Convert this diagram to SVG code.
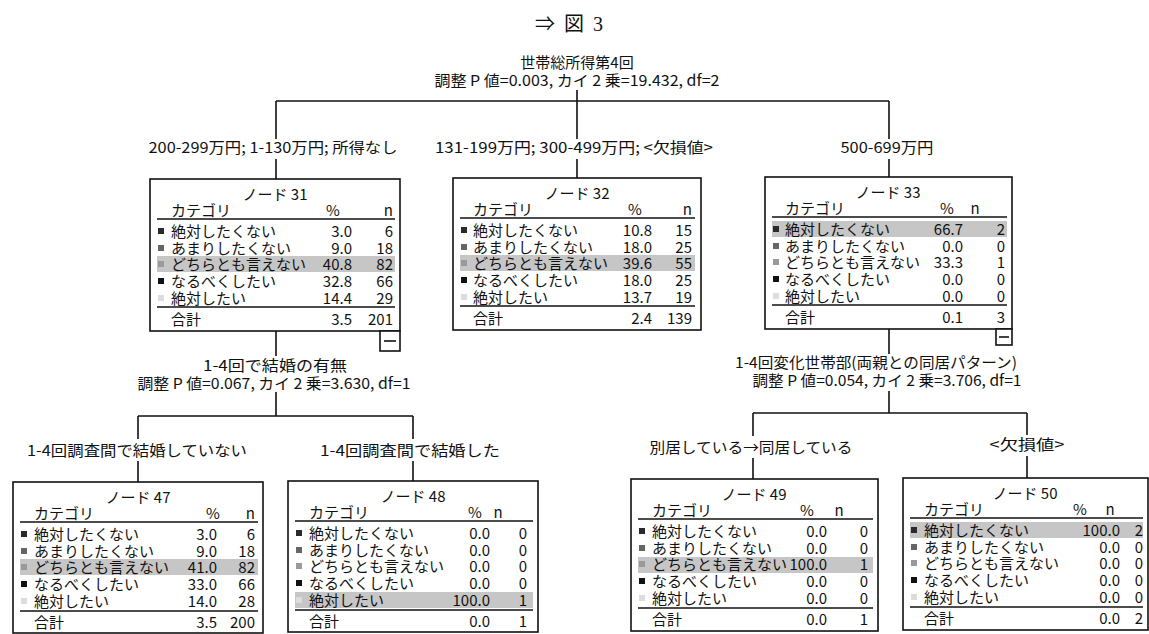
<svg xmlns="http://www.w3.org/2000/svg" width="1149" height="634" viewBox="0 0 1149 634">
<style>
text{font-family:"Noto Sans CJK JP","Noto Sans CJK SC",sans-serif;font-size:15px;fill:#111}
.c{text-anchor:middle}
.e{text-anchor:end}
.ttl{font-family:"Liberation Serif","Noto Sans CJK JP",serif;font-size:20px}
.box{fill:#fff;stroke:#111;stroke-width:1.6}
.sep{stroke:#111;stroke-width:1.6}
.hl{fill:#c6c6c6}
.k1{fill:#2a2a2a}.k2{fill:#666}.k3{fill:#9a9a9a}.k4{fill:#111}.k5{fill:#dcdcdc}
.cn{fill:none;stroke:#111;stroke-width:1.6}
</style>
<text class="ttl c" x="569" y="31" textLength="68" lengthAdjust="spacing">⇒ 図 3</text>
<g id="root">
<text class="c" x="577" y="68" font-size="16">世帯総所得第4回</text>
<text class="c" x="577" y="86" textLength="285" lengthAdjust="spacingAndGlyphs">調整 P 値=0.003, カイ 2 乗=19.432, df=2</text>
</g>
<g id="connectors" class="cn">
<path class="cn" d="M577,90V101M276,101H889M276,101V139M276,159V179M577,101V139M577,159V178M889,101V139M889,159V177"/>
<path class="cn" d="M276,331V356M276,392V416M138,416H413M138,416V439M138,461V482M413,416V439M413,461V481"/>
<path class="cn" d="M889,329V354M889,391V413M753,413H1027M753,413V436M753,458V479M1027,413V435M1027,456V478"/>
</g>
<g id="labels">
<text class="c" x="273" y="153" textLength="249" lengthAdjust="spacingAndGlyphs">200-299万円; 1-130万円; 所得なし</text>
<text class="c" x="574" y="153" textLength="278" lengthAdjust="spacingAndGlyphs">131-199万円; 300-499万円; &lt;欠損値&gt;</text>
<text class="c" x="887" y="153" textLength="93" lengthAdjust="spacingAndGlyphs">500-699万円</text>
<text class="c" x="275" y="371" textLength="144" lengthAdjust="spacingAndGlyphs">1-4回で結婚の有無</text>
<text class="c" x="274" y="389" textLength="273" lengthAdjust="spacingAndGlyphs">調整 P 値=0.067, カイ 2 乗=3.630, df=1</text>
<text class="c" x="876" y="368" textLength="282" lengthAdjust="spacingAndGlyphs">1-4回変化世帯部(両親との同居パターン)</text>
<text class="c" x="887" y="386" textLength="269" lengthAdjust="spacingAndGlyphs">調整 P 値=0.054, カイ 2 乗=3.706, df=1</text>
<text class="c" x="137" y="456" textLength="220" lengthAdjust="spacingAndGlyphs">1-4回調査間で結婚していない</text>
<text class="c" x="410" y="456" textLength="180" lengthAdjust="spacingAndGlyphs">1-4回調査間で結婚した</text>
<text class="c" x="751" y="453" textLength="203" lengthAdjust="spacingAndGlyphs">別居している→同居している</text>
<text class="c" x="1027" y="450" textLength="75" lengthAdjust="spacingAndGlyphs">&lt;欠損値&gt;</text>
</g>

<g id="node31">
<rect class="box" x="150" y="179" width="250" height="152"/>
<rect class="hl" x="157" y="256" width="238" height="16"/>
<text class="c" x="275" y="200">ノード 31</text>
<text x="171" y="216">カテゴリ</text><text class="c" x="333" y="216">%</text><text class="e" x="393" y="216">n</text>
<line class="sep" x1="157" y1="219" x2="395" y2="219"/>
<rect class="k1" x="158" y="228" width="6" height="6"/><rect class="k2" x="158" y="245" width="6" height="6"/><rect class="k3" x="158" y="261" width="6" height="6"/><rect class="k4" x="158" y="278" width="6" height="6"/><rect class="k5" x="158" y="295" width="6" height="6"/>
<text x="171" y="236.5">絶対したくない</text><text class="e" x="352" y="236.5">3.0</text><text class="e" x="393" y="236.5">6</text>
<text x="171" y="253.5">あまりしたくない</text><text class="e" x="352" y="253.5">9.0</text><text class="e" x="393" y="253.5">18</text>
<text x="171" y="269.5">どちらとも言えない</text><text class="e" x="352" y="269.5">40.8</text><text class="e" x="393" y="269.5">82</text>
<text x="171" y="286.5">なるべくしたい</text><text class="e" x="352" y="286.5">32.8</text><text class="e" x="393" y="286.5">66</text>
<text x="171" y="303.5">絶対したい</text><text class="e" x="352" y="303.5">14.4</text><text class="e" x="393" y="303.5">29</text>
<line class="sep" x1="157" y1="307" x2="395" y2="307"/>
<text x="171" y="324.5">合計</text><text class="e" x="352" y="324.5">3.5</text><text class="e" x="393" y="324.5">201</text>
<rect class="box" x="380" y="331" width="20" height="20"/><line class="sep" x1="384" y1="341" x2="396" y2="341"/>
</g>

<g id="node32">
<rect class="box" x="453" y="178" width="248" height="152"/>
<rect class="hl" x="460" y="255" width="235" height="16"/>
<text class="c" x="577" y="199">ノード 32</text>
<text x="473" y="215">カテゴリ</text><text class="c" x="635" y="215">%</text><text class="e" x="692" y="215">n</text>
<line class="sep" x1="460" y1="218" x2="695" y2="218"/>
<rect class="k1" x="461" y="227" width="6" height="6"/><rect class="k2" x="461" y="244" width="6" height="6"/><rect class="k3" x="461" y="260" width="6" height="6"/><rect class="k4" x="461" y="277" width="6" height="6"/><rect class="k5" x="461" y="294" width="6" height="6"/>
<text x="473" y="235.5">絶対したくない</text><text class="e" x="652" y="235.5">10.8</text><text class="e" x="692" y="235.5">15</text>
<text x="473" y="252.5">あまりしたくない</text><text class="e" x="652" y="252.5">18.0</text><text class="e" x="692" y="252.5">25</text>
<text x="473" y="268.5">どちらとも言えない</text><text class="e" x="652" y="268.5">39.6</text><text class="e" x="692" y="268.5">55</text>
<text x="473" y="285.5">なるべくしたい</text><text class="e" x="652" y="285.5">18.0</text><text class="e" x="692" y="285.5">25</text>
<text x="473" y="302.5">絶対したい</text><text class="e" x="652" y="302.5">13.7</text><text class="e" x="692" y="302.5">19</text>
<line class="sep" x1="460" y1="306" x2="695" y2="306"/>
<text x="473" y="323.5">合計</text><text class="e" x="652" y="323.5">2.4</text><text class="e" x="692" y="323.5">139</text>
</g>

<g id="node33">
<rect class="box" x="765" y="177" width="247" height="152"/>
<rect class="hl" x="772" y="221" width="235" height="16"/>
<text class="c" x="888" y="198">ノード 33</text>
<text x="785" y="214">カテゴリ</text><text class="c" x="947" y="214">%</text><text class="c" x="975" y="214">n</text>
<line class="sep" x1="772" y1="217" x2="1007" y2="217"/>
<rect class="k1" x="773" y="226" width="6" height="6"/><rect class="k2" x="773" y="243" width="6" height="6"/><rect class="k3" x="773" y="259" width="6" height="6"/><rect class="k4" x="773" y="276" width="6" height="6"/><rect class="k5" x="773" y="293" width="6" height="6"/>
<text x="785" y="234.5">絶対したくない</text><text class="e" x="963" y="234.5">66.7</text><text class="e" x="1005" y="234.5">2</text>
<text x="785" y="251.5">あまりしたくない</text><text class="e" x="963" y="251.5">0.0</text><text class="e" x="1005" y="251.5">0</text>
<text x="785" y="267.5">どちらとも言えない</text><text class="e" x="963" y="267.5">33.3</text><text class="e" x="1005" y="267.5">1</text>
<text x="785" y="284.5">なるべくしたい</text><text class="e" x="963" y="284.5">0.0</text><text class="e" x="1005" y="284.5">0</text>
<text x="785" y="301.5">絶対したい</text><text class="e" x="963" y="301.5">0.0</text><text class="e" x="1005" y="301.5">0</text>
<line class="sep" x1="772" y1="305" x2="1007" y2="305"/>
<text x="785" y="322.5">合計</text><text class="e" x="963" y="322.5">0.1</text><text class="e" x="1005" y="322.5">3</text>
<rect class="box" x="996" y="329" width="16" height="16"/><line class="sep" x1="999" y1="337" x2="1009" y2="337"/>
</g>

<g id="node47">
<rect class="box" x="13" y="482" width="250" height="151"/>
<rect class="hl" x="20" y="559" width="238" height="16"/>
<text class="c" x="138" y="503">ノード 47</text>
<text x="34" y="519">カテゴリ</text><text class="c" x="213" y="519">%</text><text class="e" x="255" y="519">n</text>
<line class="sep" x1="20" y1="522" x2="258" y2="522"/>
<rect class="k1" x="21" y="531" width="6" height="6"/><rect class="k2" x="21" y="548" width="6" height="6"/><rect class="k3" x="21" y="564" width="6" height="6"/><rect class="k4" x="21" y="581" width="6" height="6"/><rect class="k5" x="21" y="598" width="6" height="6"/>
<text x="34" y="539.5">絶対したくない</text><text class="e" x="217" y="539.5">3.0</text><text class="e" x="255" y="539.5">6</text>
<text x="34" y="556.5">あまりしたくない</text><text class="e" x="217" y="556.5">9.0</text><text class="e" x="255" y="556.5">18</text>
<text x="34" y="572.5">どちらとも言えない</text><text class="e" x="217" y="572.5">41.0</text><text class="e" x="255" y="572.5">82</text>
<text x="34" y="589.5">なるべくしたい</text><text class="e" x="217" y="589.5">33.0</text><text class="e" x="255" y="589.5">66</text>
<text x="34" y="606.5">絶対したい</text><text class="e" x="217" y="606.5">14.0</text><text class="e" x="255" y="606.5">28</text>
<line class="sep" x1="20" y1="611" x2="258" y2="611"/>
<text x="34" y="627.5">合計</text><text class="e" x="217" y="627.5">3.5</text><text class="e" x="255" y="627.5">200</text>
</g>

<g id="node48">
<rect class="box" x="288" y="481" width="250" height="151"/>
<rect class="hl" x="295" y="592" width="238" height="16"/>
<text class="c" x="413" y="502">ノード 48</text>
<text x="309" y="518">カテゴリ</text><text class="c" x="475" y="518">%</text><text class="c" x="498" y="518">n</text>
<line class="sep" x1="295" y1="521" x2="533" y2="521"/>
<rect class="k1" x="296" y="530" width="6" height="6"/><rect class="k2" x="296" y="547" width="6" height="6"/><rect class="k3" x="296" y="563" width="6" height="6"/><rect class="k4" x="296" y="580" width="6" height="6"/><rect class="k5" x="296" y="597" width="6" height="6"/>
<text x="309" y="538.5">絶対したくない</text><text class="e" x="490" y="538.5">0.0</text><text class="e" x="527" y="538.5">0</text>
<text x="309" y="555.5">あまりしたくない</text><text class="e" x="490" y="555.5">0.0</text><text class="e" x="527" y="555.5">0</text>
<text x="309" y="571.5">どちらとも言えない</text><text class="e" x="490" y="571.5">0.0</text><text class="e" x="527" y="571.5">0</text>
<text x="309" y="588.5">なるべくしたい</text><text class="e" x="490" y="588.5">0.0</text><text class="e" x="527" y="588.5">0</text>
<text x="309" y="605.5">絶対したい</text><text class="e" x="490" y="605.5">100.0</text><text class="e" x="527" y="605.5">1</text>
<line class="sep" x1="295" y1="610" x2="533" y2="610"/>
<text x="309" y="626.5">合計</text><text class="e" x="490" y="626.5">0.0</text><text class="e" x="527" y="626.5">1</text>
</g>

<g id="node49">
<rect class="box" x="631" y="479" width="247" height="152"/>
<rect class="hl" x="638" y="557" width="235" height="16"/>
<text class="c" x="754" y="500">ノード 49</text>
<text x="652" y="516">カテゴリ</text><text class="c" x="807" y="516">%</text><text class="c" x="839" y="516">n</text>
<line class="sep" x1="638" y1="519" x2="873" y2="519"/>
<rect class="k1" x="639" y="528" width="6" height="6"/><rect class="k2" x="639" y="545" width="6" height="6"/><rect class="k3" x="639" y="561" width="6" height="6"/><rect class="k4" x="639" y="578" width="6" height="6"/><rect class="k5" x="639" y="595" width="6" height="6"/>
<text x="652" y="536.5">絶対したくない</text><text class="e" x="827" y="536.5">0.0</text><text class="e" x="868" y="536.5">0</text>
<text x="652" y="553.5">あまりしたくない</text><text class="e" x="827" y="553.5">0.0</text><text class="e" x="868" y="553.5">0</text>
<text x="652" y="569.5">どちらとも言えない</text><text class="e" x="827" y="569.5">100.0</text><text class="e" x="868" y="569.5">1</text>
<text x="652" y="586.5">なるべくしたい</text><text class="e" x="827" y="586.5">0.0</text><text class="e" x="868" y="586.5">0</text>
<text x="652" y="603.5">絶対したい</text><text class="e" x="827" y="603.5">0.0</text><text class="e" x="868" y="603.5">0</text>
<line class="sep" x1="638" y1="608" x2="873" y2="608"/>
<text x="652" y="624.5">合計</text><text class="e" x="827" y="624.5">0.0</text><text class="e" x="868" y="624.5">1</text>
</g>

<g id="node50">
<rect class="box" x="903" y="478" width="245" height="152"/>
<rect class="hl" x="910" y="522" width="233" height="16"/>
<text class="c" x="1025" y="499">ノード 50</text>
<text x="924" y="515">カテゴリ</text><text class="c" x="1080" y="515">%</text><text class="c" x="1110" y="515">n</text>
<line class="sep" x1="910" y1="518" x2="1143" y2="518"/>
<rect class="k1" x="911" y="527" width="6" height="6"/><rect class="k2" x="911" y="544" width="6" height="6"/><rect class="k3" x="911" y="560" width="6" height="6"/><rect class="k4" x="911" y="577" width="6" height="6"/><rect class="k5" x="911" y="594" width="6" height="6"/>
<text x="924" y="535.5">絶対したくない</text><text class="e" x="1120" y="535.5">100.0</text><text class="e" x="1143" y="535.5">2</text>
<text x="924" y="552.5">あまりしたくない</text><text class="e" x="1120" y="552.5">0.0</text><text class="e" x="1143" y="552.5">0</text>
<text x="924" y="568.5">どちらとも言えない</text><text class="e" x="1120" y="568.5">0.0</text><text class="e" x="1143" y="568.5">0</text>
<text x="924" y="585.5">なるべくしたい</text><text class="e" x="1120" y="585.5">0.0</text><text class="e" x="1143" y="585.5">0</text>
<text x="924" y="602.5">絶対したい</text><text class="e" x="1120" y="602.5">0.0</text><text class="e" x="1143" y="602.5">0</text>
<line class="sep" x1="910" y1="607" x2="1143" y2="607"/>
<text x="924" y="623.5">合計</text><text class="e" x="1120" y="623.5">0.0</text><text class="e" x="1143" y="623.5">2</text>
</g>
</svg>
